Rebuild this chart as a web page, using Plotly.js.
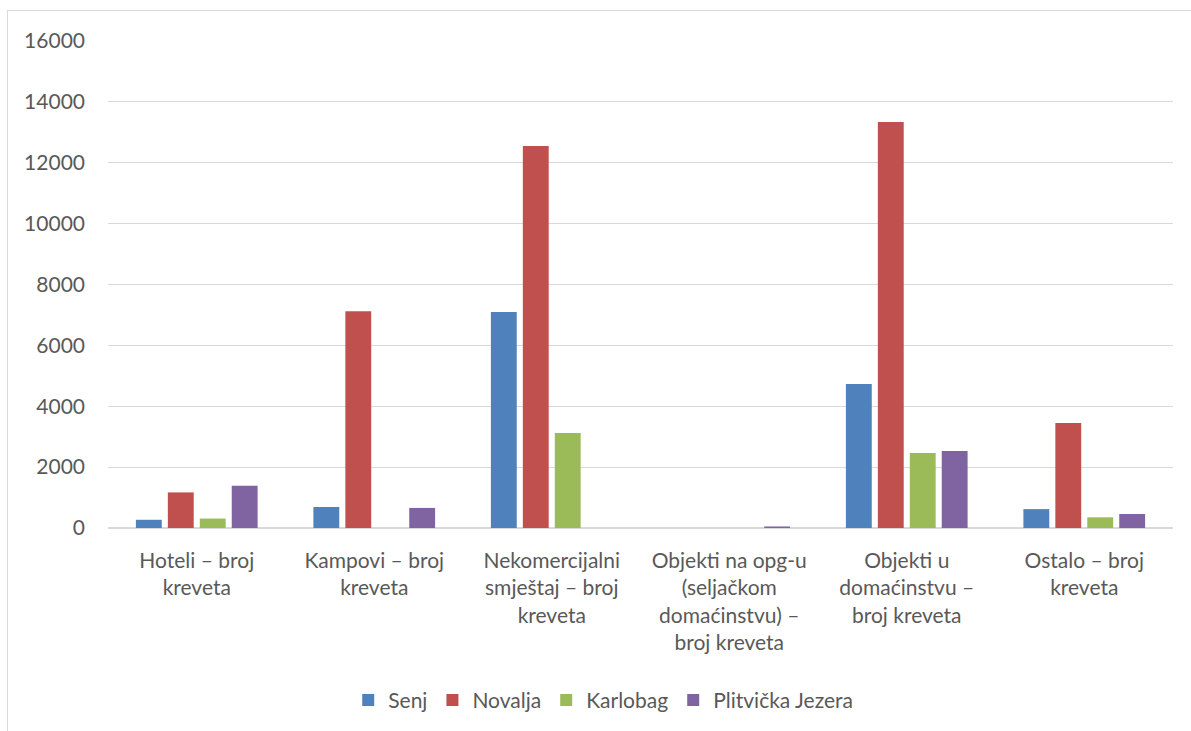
<!DOCTYPE html>
<html><head><meta charset="utf-8">
<script src="https://cdn.plot.ly/plotly-3.0.1.min.js"></script>
<style>
html,body{margin:0;padding:0;background:#fff;overflow:hidden}
#frame{position:absolute;left:7px;top:10px;width:1200px;height:740px;border:1px solid #d9d9d9;box-sizing:border-box}
#chart{position:absolute;left:0;top:0;width:1191px;height:731px}
</style></head><body>
<div id="frame"></div>
<div id="chart"></div>
<script>
const categories = [
  "Hoteli – broj<br>kreveta",
  "Kampovi – broj<br>kreveta",
  "Nekomercijalni<br>smještaj – broj<br>kreveta",
  "Objekti na opg-u<br>(seljačkom<br>domaćinstvu) –<br>broj kreveta",
  "Objekti u<br>domaćinstvu –<br>broj kreveta",
  "Ostalo – broj<br>kreveta"
];
const senj = [270, 690, 7100, 0, 4730, 620];
const novalja = [1170, 7120, 12550, 0, 13340, 3450];
const karlobag = [310, 0, 3120, 0, 2460, 350];
const plitvice = [1390, 660, 0, 50, 2530, 460];
const seriesNames = ["Senj", "Novalja", "Karlobag", "Plitvička Jezera"];
const colors = ["#4F81BD", "#C0504D", "#9BBB59", "#8064A2"];
const tickVals = [0, 2000, 4000, 6000, 8000, 10000, 12000, 14000, 16000];

const allSeries = [senj, novalja, karlobag, plitvice];
const data = allSeries.map((vals, i) => ({
  type: "bar",
  name: seriesNames[i],
  x: categories,
  y: vals,
  marker: {color: colors[i]},
  hoverinfo: "x+y+name"
}));

const font = {family: "Lato, 'Open Sans', sans-serif", size: 21, color: "#595959"};
const layout = {
  width: 1191, height: 731,
  paper_bgcolor: "rgba(0,0,0,0)",
  plot_bgcolor: "rgba(0,0,0,0)",
  margin: {l: 108, r: 18, t: 41, b: 203, autoexpand: false},
  font: font,
  barmode: "group",
  bargap: 0.28,
  bargroupgap: 0.19,
  xaxis: {
    showgrid: false, showline: false, ticks: "", zeroline: false,
    tickfont: font, automargin: false, ticklabelstandoff: 18
  },
  yaxis: {
    range: [0, 16000], tickvals: tickVals, ticktext: tickVals.map(String),
    showgrid: true, gridcolor: "#d9d9d9", gridwidth: 1,
    zeroline: true, zerolinecolor: "#d9d9d9", zerolinewidth: 2,
    showline: false, ticks: "", ticklen: 0, tickfont: font,
    automargin: false, ticklabelstandoff: 22
  },
  showlegend: true,
  legend: {
    orientation: "h", x: 0.465, xanchor: "center", y: -0.354, yanchor: "middle",
    font: font, itemwidth: 30, traceorder: "normal", tracegroupgap: 0
  }
};
Plotly.newPlot("chart", data, layout, {displayModeBar: false, staticPlot: true});
</script>
</body></html>
